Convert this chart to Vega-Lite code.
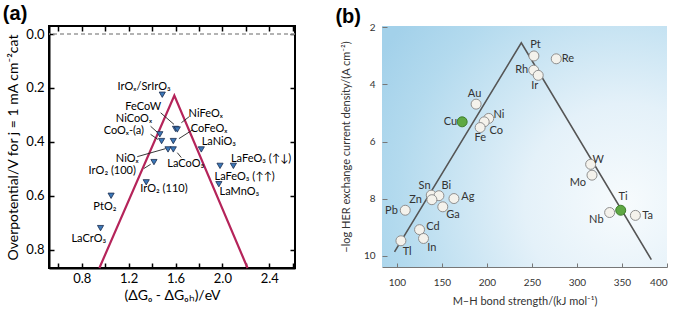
{
  "$schema": "https://vega.github.io/schema/vega-lite/v6.json",
  "background": "white",
  "padding": {"left": 1, "top": 3, "right": 2, "bottom": 2},
  "spacing": 38,
  "config": {"font": "Lato", "axis": {"grid": false}, "view": {"continuousWidth": 200}},
  "datasets": {
    "a_pts": [
      {"label": "IrOₓ/SrIrO₃", "dg": 1.487, "eta": 0.225, "lx": 1.332, "ly": 0.196},
      {"label": "FeCoW", "dg": 1.600, "eta": 0.352, "lx": 1.324, "ly": 0.270},
      {"label": "NiFeOₓ", "dg": 1.615, "eta": 0.354, "lx": 1.858, "ly": 0.295},
      {"label": "NiCoOₓ", "dg": 1.466, "eta": 0.372, "lx": 1.245, "ly": 0.314},
      {"label": "CoOₓ-(a)", "dg": 1.481, "eta": 0.397, "lx": 1.159, "ly": 0.360},
      {"label": "CoFeOₓ", "dg": 1.581, "eta": 0.397, "lx": 1.886, "ly": 0.354},
      {"label": "NiOₓ", "dg": 1.536, "eta": 0.428, "lx": 1.188, "ly": 0.465},
      {"label": "LaCoO₃", "dg": 1.581, "eta": 0.428, "lx": 1.687, "ly": 0.483},
      {"label": "LaNiO₃", "dg": 1.82, "eta": 0.428, "lx": 1.97, "ly": 0.40},
      {"label": "IrO₂ (100)", "dg": 1.416, "eta": 0.475, "lx": 1.06, "ly": 0.508},
      {"label": "IrO₂ (110)", "dg": 1.35, "eta": 0.55, "lx": 1.501, "ly": 0.575},
      {"label": "LaFeO₃ (↑↓)", "dg": 2.094, "eta": 0.489, "lx": 2.33, "ly": 0.462},
      {"label": "LaFeO₃ (↑↑)", "dg": 1.98, "eta": 0.489, "lx": 2.19, "ly": 0.532},
      {"label": "LaMnO₃", "dg": 1.97, "eta": 0.557, "lx": 2.145, "ly": 0.585},
      {"label": "PtO₂", "dg": 1.05, "eta": 0.60, "lx": 0.997, "ly": 0.643},
      {"label": "LaCrO₃", "dg": 0.96, "eta": 0.72, "lx": 0.86, "ly": 0.762}
    ],
    "a_arrows": [
      {"label": "FeCoW", "x": 1.473, "y": 0.292, "x2": 1.587, "y2": 0.335},
      {"label": "NiFeOₓ", "x": 1.715, "y": 0.307, "x2": 1.65, "y2": 0.329},
      {"label": "NiCoOₓ", "x": 1.387, "y": 0.342, "x2": 1.444, "y2": 0.364},
      {"label": "CoOₓ-(a)", "x": 1.387, "y": 0.372, "x2": 1.45, "y2": 0.391},
      {"label": "CoFeOₓ", "x": 1.744, "y": 0.356, "x2": 1.629, "y2": 0.388},
      {"label": "NiOₓ", "x": 1.273, "y": 0.455, "x2": 1.516, "y2": 0.425},
      {"label": "LaCoO₃", "x": 1.649, "y": 0.458, "x2": 1.615, "y2": 0.44},
      {"label": "IrO₂ (100)", "x": 1.33, "y": 0.499, "x2": 1.388, "y2": 0.483}
    ],
    "a_volcano": [
      {"i": 0, "dg": 0.95, "eta": 0.868},
      {"i": 1, "dg": 1.59, "eta": 0.228},
      {"i": 2, "dg": 2.215, "eta": 0.868}
    ],
    "b_pts": [
      {"m": "Pt", "bond": 252.2, "logj": 3.0, "lx": 254, "ly": 2.62, "group": "normal"},
      {"m": "Re", "bond": 277, "logj": 3.1, "lx": 290, "ly": 3.09, "group": "normal"},
      {"m": "Rh", "bond": 252, "logj": 3.5, "lx": 238.6, "ly": 3.51, "group": "normal"},
      {"m": "Ir", "bond": 257, "logj": 3.68, "lx": 253, "ly": 4.07, "group": "normal"},
      {"m": "Au", "bond": 188, "logj": 4.69, "lx": 186.3, "ly": 4.32, "group": "normal"},
      {"m": "Cu", "bond": 172.5, "logj": 5.31, "lx": 159.5, "ly": 5.30, "group": "highlight"},
      {"m": "Ni", "bond": 202, "logj": 5.19, "lx": 213.3, "ly": 5.08, "group": "normal"},
      {"m": "Co", "bond": 197, "logj": 5.31, "lx": 210.4, "ly": 5.64, "group": "normal"},
      {"m": "Fe", "bond": 192.5, "logj": 5.51, "lx": 192.7, "ly": 5.89, "group": "normal"},
      {"m": "W", "bond": 315.2, "logj": 6.8, "lx": 323.5, "ly": 6.65, "group": "normal"},
      {"m": "Mo", "bond": 316.7, "logj": 7.18, "lx": 301.1, "ly": 7.47, "group": "normal"},
      {"m": "Sn", "bond": 138.2, "logj": 7.88, "lx": 130.8, "ly": 7.57, "group": "normal"},
      {"m": "Bi", "bond": 146.7, "logj": 7.9, "lx": 154.9, "ly": 7.57, "group": "normal"},
      {"m": "Zn", "bond": 138.9, "logj": 8.04, "lx": 120.8, "ly": 8.04, "group": "normal"},
      {"m": "Ag", "bond": 163.4, "logj": 8.0, "lx": 178.9, "ly": 7.96, "group": "normal"},
      {"m": "Ga", "bond": 151, "logj": 8.29, "lx": 162.2, "ly": 8.59, "group": "normal"},
      {"m": "Pb", "bond": 109.3, "logj": 8.41, "lx": 94, "ly": 8.44, "group": "normal"},
      {"m": "Cd", "bond": 125.2, "logj": 9.09, "lx": 140, "ly": 8.99, "group": "normal"},
      {"m": "In", "bond": 129.6, "logj": 9.4, "lx": 138.9, "ly": 9.72, "group": "normal"},
      {"m": "Tl", "bond": 104.5, "logj": 9.48, "lx": 111.5, "ly": 9.87, "group": "normal"},
      {"m": "Ti", "bond": 348.6, "logj": 8.41, "lx": 351.2, "ly": 7.96, "group": "highlight"},
      {"m": "Nb", "bond": 336.3, "logj": 8.49, "lx": 321.5, "ly": 8.74, "group": "normal"},
      {"m": "Ta", "bond": 364.9, "logj": 8.59, "lx": 378.6, "ly": 8.6, "group": "normal"}
    ],
    "b_volcano": [
      {"i": 0, "bond": 97.4, "logj": 9.87},
      {"i": 1, "bond": 238.2, "logj": 2.54},
      {"i": 2, "bond": 382.6, "logj": 10.14}
    ]
  },
  "hconcat": [
    {
      "width": 246,
      "height": 242,
      "title": {"text": "(a)", "anchor": "start", "frame": "bounds", "font": "Liberation Sans", "fontSize": 20, "fontWeight": "bold", "color": "black", "dx": -4, "offset": 1},
      "view": {"stroke": "black", "strokeWidth": 2},
      "resolve": {"axis": {"x": "independent", "y": "independent"}},
      "layer": [
        {
          "data": {"values": [{"eta": 0}]},
          "mark": {"type": "rule", "strokeDash": [4, 3], "color": "#9a9a9a", "strokeWidth": 1.5},
          "encoding": {
            "y": {"field": "eta", "type": "quantitative",
                  "scale": {"domain": [-0.03, 0.868], "reverse": true, "nice": false, "zero": false},
                  "axis": {"orient": "right", "values": [0, 0.2, 0.4, 0.6, 0.8], "labels": false, "title": null, "tickSize": -5, "tickColor": "black", "tickWidth": 1.5, "domain": false}}
          }
        },
        {
          "data": {"name": "a_volcano"},
          "mark": {"type": "line", "color": "#b5245a", "strokeWidth": 2.2},
          "encoding": {
            "x": {"field": "dg", "type": "quantitative",
                  "scale": {"domain": [0.52, 2.62], "nice": false, "zero": false},
                  "axis": {"orient": "top", "values": [0.6, 0.8, 1, 1.2, 1.4, 1.6, 1.8, 2, 2.2, 2.4, 2.6], "labels": false, "title": null, "tickSize": -5, "tickColor": "black", "tickWidth": 1.5, "domain": false}},
            "y": {"field": "eta", "type": "quantitative", "scale": {"domain": [-0.03, 0.868], "reverse": true, "nice": false, "zero": false}, "axis": null},
            "order": {"field": "i"}
          }
        },
        {
          "data": {"name": "a_arrows"},
          "mark": {"type": "rule", "color": "#222222", "strokeWidth": 0.9},
          "encoding": {
            "x": {"field": "x", "type": "quantitative", "axis": null},
            "x2": {"field": "x2"},
            "y": {"field": "y", "type": "quantitative", "axis": null},
            "y2": {"field": "y2"}
          }
        },
        {
          "data": {"name": "a_pts"},
          "mark": {"type": "point", "shape": "triangle-down", "filled": true, "fill": "#3b78b8", "stroke": "#1b2b4d", "strokeWidth": 0.8, "size": 38, "opacity": 1},
          "encoding": {
            "x": {"field": "dg", "type": "quantitative",
                  "scale": {"domain": [0.52, 2.62], "nice": false, "zero": false},
                  "axis": {"orient": "bottom", "values": [0.6, 0.8, 1, 1.2, 1.4, 1.6, 1.8, 2, 2.2, 2.4, 2.6],
                           "labelExpr": "round(datum.value*10) % 4 == 0 ? format(datum.value, '.1f') : ''",
                           "labelOverlap": false, "labelFontSize": 13, "labelColor": "black", "labelPadding": 9,
                           "tickSize": -5, "tickColor": "black", "tickWidth": 1.5,
                           "domainColor": "black", "domainWidth": 2,
                           "title": "(ΔGₒ - ΔGₒₕ)/eV", "titleFontSize": 14, "titleFontWeight": "normal", "titleColor": "black", "titlePadding": 3}},
            "y": {"field": "eta", "type": "quantitative",
                  "scale": {"domain": [-0.03, 0.868], "reverse": true, "nice": false, "zero": false},
                  "axis": {"orient": "left", "values": [0, 0.2, 0.4, 0.6, 0.8], "format": ".1f",
                           "labelFontSize": 13, "labelColor": "black", "labelPadding": 10,
                           "tickSize": -5, "tickColor": "black", "tickWidth": 1.5,
                           "domainColor": "black", "domainWidth": 2,
                           "title": "Overpotential/V  for j = 1 mA cm⁻²cat", "titleFontSize": 14, "titleFontWeight": "normal", "titleColor": "black", "titlePadding": 5}}
          }
        },
        {
          "data": {"name": "a_pts"},
          "mark": {"type": "text", "fontSize": 11, "color": "black", "align": "center", "baseline": "middle"},
          "encoding": {
            "x": {"field": "lx", "type": "quantitative", "axis": null},
            "y": {"field": "ly", "type": "quantitative", "axis": null},
            "text": {"field": "label"}
          }
        }
      ]
    },
    {
      "width": 285,
      "height": 241,
      "title": {"text": "(b)", "anchor": "start", "frame": "bounds", "font": "Liberation Sans", "fontSize": 20, "fontWeight": "bold", "color": "black", "dx": -5, "offset": -5},
      "view": {"stroke": null, "fill": {"gradient": "radial", "x1": 0.85, "y1": 0.7, "r1": 0, "x2": 0.85, "y2": 0.7, "r2": 1.0,
               "stops": [{"offset": 0, "color": "#f7fbfd"}, {"offset": 0.35, "color": "#e4f1f9"}, {"offset": 0.8, "color": "#b3daee"}, {"offset": 1, "color": "#a3d1ea"}]}},
      "resolve": {"axis": {"x": "independent", "y": "independent"}},
      "layer": [
        {
          "data": {"name": "b_volcano"},
          "mark": {"type": "line", "color": "#555555", "strokeWidth": 1.6},
          "encoding": {
            "x": {"field": "bond", "type": "quantitative",
                  "scale": {"domain": [83.5, 400], "nice": false, "zero": false},
                  "axis": {"orient": "bottom", "values": [100, 150, 200, 250, 300, 350, 400],
                           "labelFontSize": 10, "labelColor": "#333333", "labelPadding": 14,
                           "tickSize": -4, "tickColor": "#777777", "domainColor": "#777777", "domainWidth": 1,
                           "title": "M–H bond strength/(kJ mol⁻¹)", "titleFontSize": 11, "titleFontWeight": "normal", "titleColor": "#333333", "titlePadding": 8}},
            "y": {"field": "logj", "type": "quantitative",
                  "scale": {"domain": [1.95, 10.4], "reverse": true, "nice": false, "zero": false},
                  "axis": {"orient": "left", "values": [2, 4, 6, 8, 10],
                           "labelFontSize": 10, "labelColor": "#333333", "labelPadding": 12,
                           "tickSize": -5, "tickColor": "#777777", "domain": false,
                           "title": "−log HER exchange current density/(A cm⁻²)", "titleFontSize": 11, "titleFontWeight": "normal", "titleColor": "#333333", "titlePadding": 12}},
            "order": {"field": "i"}
          }
        },
        {
          "data": {"name": "b_pts"},
          "mark": {"type": "point", "shape": "circle", "filled": true, "size": 100, "strokeWidth": 1, "opacity": 1},
          "encoding": {
            "x": {"field": "bond", "type": "quantitative", "axis": null},
            "y": {"field": "logj", "type": "quantitative", "axis": null},
            "fill": {"field": "group", "type": "nominal", "scale": {"domain": ["normal", "highlight"], "range": ["#f4f2ec", "#5ea843"]}, "legend": null},
            "stroke": {"field": "group", "type": "nominal", "scale": {"domain": ["normal", "highlight"], "range": ["#8f8f8f", "#3e7d2c"]}, "legend": null}
          }
        },
        {
          "data": {"name": "b_pts"},
          "mark": {"type": "text", "fontSize": 11, "color": "#333333", "align": "center", "baseline": "middle"},
          "encoding": {
            "x": {"field": "lx", "type": "quantitative", "axis": null},
            "y": {"field": "ly", "type": "quantitative", "axis": null},
            "text": {"field": "m"}
          }
        }
      ]
    }
  ]
}
